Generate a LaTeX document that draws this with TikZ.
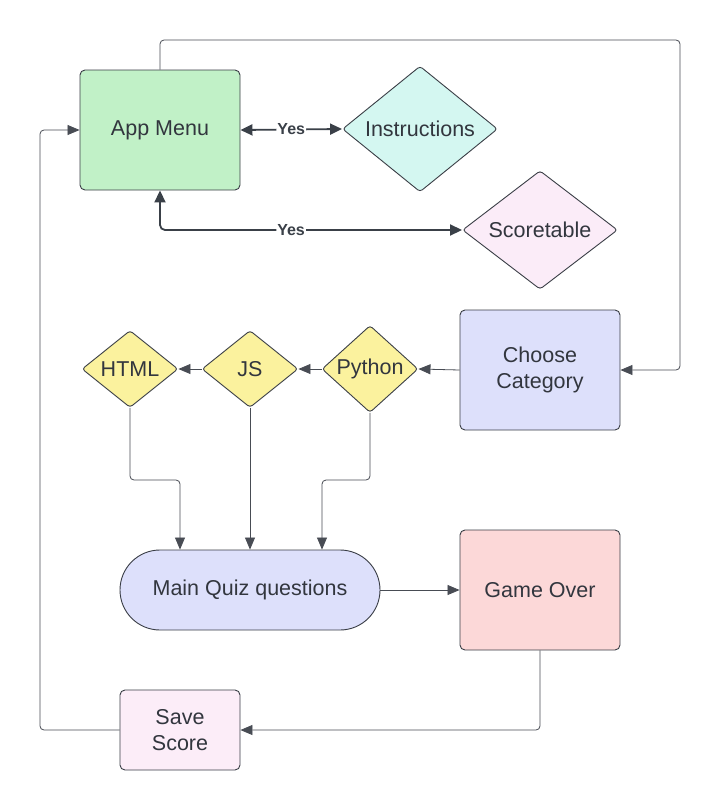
\documentclass[tikz,border=0pt]{standalone}
\usepackage{fontspec}
\setmainfont{Liberation Sans}
\usetikzlibrary{shapes.geometric,arrows.meta}
\definecolor{bordc}{RGB}{58,62,70}
\definecolor{linec}{RGB}{72,76,84}
\definecolor{thickc}{RGB}{58,64,72}
\definecolor{txtc}{RGB}{50,54,62}
\definecolor{appgreen}{RGB}{193,241,199}
\definecolor{instrc}{RGB}{212,247,241}
\definecolor{scorec}{RGB}{251,236,248}
\definecolor{lavc}{RGB}{221,224,251}
\definecolor{yelc}{RGB}{251,242,158}
\definecolor{goc}{RGB}{252,216,216}
\definecolor{savec}{RGB}{252,237,248}
\tikzset{
  lbl/.style={font=\fontsize{21.5}{26}\selectfont, text=txtc, align=center},
  boxn/.style={lbl, draw=bordc, line width=0.9pt, rounded corners=5pt, inner sep=0pt},
  dian/.style={lbl, diamond, draw=bordc, line width=0.9pt, rounded corners=3pt, inner sep=0pt},
  conn/.style={draw=linec, line width=0.8pt, rounded corners=4pt, -{Triangle[length=12pt,width=10pt]}},
  tconn/.style={draw=thickc, line width=1.8pt, rounded corners=5pt},
  yes/.style={fill=white, font=\bfseries\fontsize{16}{18}\selectfont, text=thickc, inner sep=1pt}
}
\begin{document}
\begin{tikzpicture}[x=1pt,y=-1pt]
\useasboundingbox[fill=white] (0,0) rectangle (721,811);
\node[boxn, fill=appgreen, minimum width=160pt, minimum height=120pt] (app) at (160,130) {App Menu};
\node[dian, fill=instrc, minimum width=155pt, minimum height=116pt] (instr) at (420,129) {Instructions};
\node[dian, fill=scorec, minimum width=155pt, minimum height=116pt] (score) at (540,230) {Scoretable};
\node[boxn, fill=lavc, minimum width=160pt, minimum height=120pt] (choose) at (540,370) {Choose\\Category};
\node[dian, fill=yelc, minimum width=96pt, minimum height=77pt] (py) at (370,369) {Python};
\node[dian, fill=yelc, minimum width=96pt, minimum height=77pt] (js) at (250,369) {JS};
\node[dian, fill=yelc, minimum width=96pt, minimum height=77pt] (html) at (130,369) {HTML};
\node[boxn, fill=lavc, rounded corners=40pt, minimum width=260pt, minimum height=80pt] (quiz) at (250,590) {Main Quiz questions};
\node[boxn, fill=goc, minimum width=160pt, minimum height=120pt] (go) at (540,590) {Game Over};
\node[boxn, fill=savec, minimum width=120pt, minimum height=80pt] (save) at (180,730) {Save\\Score};
\coordinate (topr) at (680,40);
\coordinate (leftl) at (40,130);
% top loop
\draw[conn] (app.north) |- (topr) |- (choose.east);
% app <-> instructions
\draw[tconn, {Triangle[length=12pt,width=11pt]}-{Triangle[length=12pt,width=11pt]}] (app.east) -- node[yes] {Yes} (instr.west);
% app <-> scoretable
\draw[tconn, {Triangle[length=12pt,width=11pt]}-{Triangle[length=12pt,width=11pt]}] (app.south) |- node[yes, pos=0.717] {Yes} (score.west);
% category chain
\draw[conn] (choose.west) -- (py.east);
\draw[conn] (py.west) -- (js.east);
\draw[conn] (js.west) -- (html.east);
% to quiz
\draw[conn] (html.south) -- (html.south |- 0,480) -| ([xshift=-70pt]quiz.north);
\draw[conn] (js.south) -- (js.south |- quiz.north);
\draw[conn] (py.south) -- (py.south |- 0,480) -| ([xshift=72pt]quiz.north);
% quiz -> game over
\draw[conn] (quiz.east) -- (go.west);
% game over -> save
\draw[conn] (go.south) |- (save.east);
% save -> app
\draw[conn] (save.west) -| (leftl) -- (app.west);
\end{tikzpicture}
\end{document}
